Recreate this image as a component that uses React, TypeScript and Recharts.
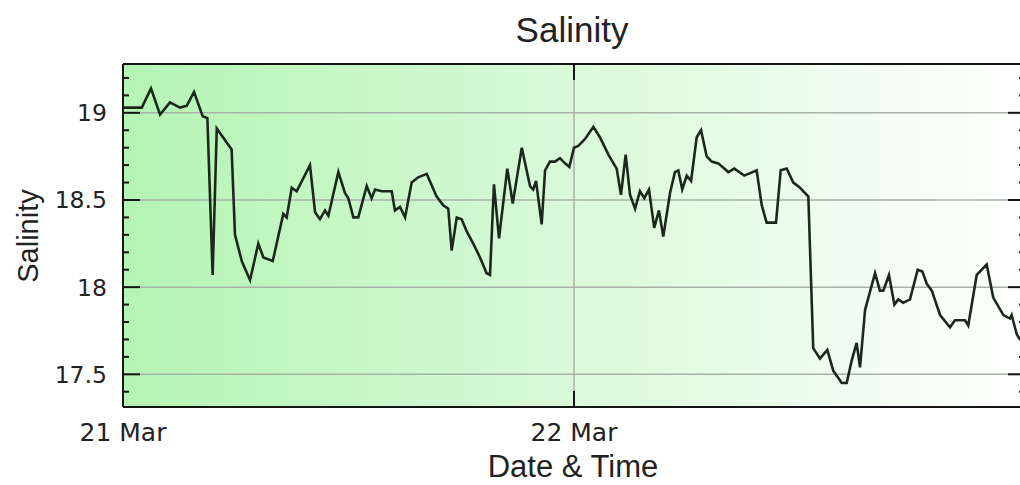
import React from 'react';
import { LineChart, Line, XAxis, YAxis, ReferenceLine, ReferenceArea } from 'recharts';

// time in hours from 21 Mar 00:00
const hours = [
  0, 0.2, 1.0, 1.49, 1.97, 2.5, 3.03, 3.39, 3.78, 4.24, 4.49, 4.77, 4.99, 5.78, 5.96, 6.32, 6.76, 7.2, 7.47, 7.97,
  8.53, 8.71, 8.98, 9.24, 9.95, 10.22, 10.48, 10.75, 10.93, 11.46, 11.81, 11.99, 12.26, 12.52, 12.97, 13.23, 13.41, 13.77, 14.3, 14.47,
  14.74, 15.01, 15.36, 15.71, 16.16, 16.69, 17.04, 17.31, 17.49, 17.76, 18.02, 18.29, 18.64, 19.0, 19.35, 19.53, 19.74, 20.01, 20.45, 20.74,
  21.22, 21.66, 21.83, 21.98, 22.28, 22.46, 22.72, 22.99, 23.25, 23.52, 23.75, 24.0, 24.23, 24.59, 25.03, 25.38, 25.83, 26.27, 26.5, 26.75,
  26.98, 27.25, 27.51, 27.74, 27.99, 28.27, 28.52, 28.75, 29.11, 29.37, 29.55, 29.76, 30.0, 30.23, 30.53, 30.76, 31.06, 31.33, 31.68, 32.21,
  32.53, 33.06, 33.72, 33.99, 34.25, 34.75, 35.0, 35.32, 35.67, 36.03, 36.47, 36.73, 37.09, 37.48, 37.8, 38.25, 38.51, 38.78, 39.04, 39.22,
  39.49, 40.02, 40.28, 40.46, 40.76, 41.05, 41.26, 41.52, 41.88, 42.29, 42.54, 42.77, 43.04, 43.48, 44.01, 44.27, 44.81, 44.98, 45.43, 45.96,
  46.31, 46.85, 47.2, 47.29, 47.56, 47.73,
];
const salinity = [
  19.03, 19.03, 19.03, 19.14, 18.99, 19.06, 19.03, 19.04, 19.12, 18.98, 18.97, 18.07, 18.91, 18.79, 18.3, 18.15, 18.04, 18.25, 18.17, 18.15,
  18.42, 18.4, 18.57, 18.55, 18.7, 18.43, 18.39, 18.44, 18.41, 18.66, 18.54, 18.51, 18.4, 18.4, 18.58, 18.51, 18.56, 18.55, 18.55, 18.44,
  18.46, 18.4, 18.6, 18.63, 18.65, 18.52, 18.47, 18.45, 18.21, 18.4, 18.39, 18.32, 18.25, 18.17, 18.08, 18.07, 18.59, 18.28, 18.68, 18.48,
  18.8, 18.58, 18.56, 18.61, 18.36, 18.67, 18.72, 18.72, 18.74, 18.71, 18.69, 18.8, 18.81, 18.85, 18.92, 18.86, 18.76, 18.68, 18.53, 18.76,
  18.53, 18.45, 18.55, 18.51, 18.56, 18.34, 18.44, 18.29, 18.54, 18.66, 18.67, 18.56, 18.64, 18.61, 18.86, 18.9, 18.75, 18.72, 18.71, 18.66,
  18.68, 18.64, 18.67, 18.47, 18.37, 18.37, 18.67, 18.68, 18.6, 18.57, 18.52, 17.65, 17.59, 17.64, 17.52, 17.45, 17.45, 17.58, 17.68, 17.54,
  17.87, 18.08, 17.98, 17.98, 18.07, 17.9, 17.93, 17.91, 17.93, 18.1, 18.09, 18.02, 17.98, 17.84, 17.77, 17.81, 17.81, 17.78, 18.07, 18.13,
  17.94, 17.84, 17.82, 17.84, 17.73, 17.7,
];

const xTicks = [0, 24];
const xTickLabels = ['21 Mar', '22 Mar'];
const yTicks = [17.4, 17.5, 17.6, 17.7, 17.8, 17.9, 18, 18.1, 18.2, 18.3, 18.4, 18.5, 18.6, 18.7, 18.8, 18.9, 19, 19.1, 19.2];
const yMajor = [17.5, 18, 18.5, 19];

const data = hours.map((h, i) => ({ h, s: salinity[i] }));

const X_DOMAIN = [0, 48];
const Y_DOMAIN = [17.3125, 19.28];
const AXIS = '#151515';
const GRID = '#a9b2a9';

const isMajor = (v: number) => yMajor.some((m) => Math.abs(m - v) < 1e-6);

function LeftTick({ x, y, payload }: any) {
  const major = isMajor(payload.value);
  return (
    <g>
      <line x1={x} x2={x + (major ? 17 : 6)} y1={y} y2={y} stroke={AXIS} strokeWidth={2} />
      {major && (
        <text x={x - 16} y={y + 8.5} textAnchor="end" fontSize={23.5} fontFamily="DejaVu Sans" fill="#222">
          {payload.value}
        </text>
      )}
    </g>
  );
}

function RightTick({ x, y, payload }: any) {
  const major = isMajor(payload.value);
  return <line x1={x} x2={x - (major ? 17 : 6)} y1={y} y2={y} stroke={AXIS} strokeWidth={2} />;
}

function BottomTick({ x, y, payload, index }: any) {
  return (
    <g>
      <line x1={x} x2={x} y1={y} y2={y - 16} stroke={AXIS} strokeWidth={2} />
      <text x={x} y={y + 34} textAnchor="middle" fontSize={25} fontFamily="DejaVu Sans" fill="#222">
        {xTickLabels[xTicks.indexOf(payload.value)] ?? xTickLabels[index]}
      </text>
    </g>
  );
}

function TopTick({ x, y }: any) {
  return <line x1={x} x2={x} y1={y} y2={y + 16} stroke={AXIS} strokeWidth={2} />;
}

export default function App() {
  return (
    <div style={{ position: 'fixed', left: 0, top: 0, width: 1020, height: 485, overflow: 'hidden', background: '#fff' }}>
      <svg width={0} height={0} style={{ position: 'absolute' }}>
        <defs>
          <linearGradient id="plotBg" x1="0" y1="0" x2="1" y2="0">
            <stop offset="0%" stopColor="#b4f4b4" />
            <stop offset="100%" stopColor="#ffffff" />
          </linearGradient>
        </defs>
      </svg>
      <div style={{ position: 'absolute', left: 0, top: 0 }}>
        <LineChart width={1040} height={485} data={data} margin={{ top: 63, right: 0, bottom: 0, left: 0 }}>
          <XAxis
            dataKey="h"
            type="number"
            domain={X_DOMAIN}
            ticks={xTicks}
            interval={0}
            height={78}
            tickSize={0}
            tickMargin={0}
            tickLine={false}
            axisLine={{ stroke: AXIS, strokeWidth: 2 }}
            tick={<BottomTick />}
          />
          <XAxis
            xAxisId="top"
            orientation="top"
            dataKey="h"
            type="number"
            domain={X_DOMAIN}
            ticks={xTicks}
            interval={0}
            height={1}
            tickSize={0}
            tickMargin={0}
            tickLine={false}
            axisLine={{ stroke: AXIS, strokeWidth: 2 }}
            tick={<TopTick />}
          />
          <YAxis
            type="number"
            domain={Y_DOMAIN}
            ticks={yTicks}
            interval={0}
            width={123}
            tickSize={0}
            tickMargin={0}
            tickLine={false}
            axisLine={{ stroke: AXIS, strokeWidth: 2 }}
            tick={<LeftTick />}
            allowDataOverflow
          />
          <YAxis
            yAxisId="right"
            orientation="right"
            type="number"
            domain={Y_DOMAIN}
            ticks={yTicks}
            interval={0}
            width={15}
            tickSize={0}
            tickMargin={0}
            tickLine={false}
            axisLine={{ stroke: AXIS, strokeWidth: 2 }}
            tick={<RightTick />}
            allowDataOverflow
          />
          <ReferenceArea
            x1={X_DOMAIN[0]}
            x2={X_DOMAIN[1]}
            y1={Y_DOMAIN[0]}
            y2={Y_DOMAIN[1]}
            fill="url(#plotBg)"
            fillOpacity={1}
            stroke="none"
          />
          {yMajor.map((v) => (
            <ReferenceLine key={v} y={v} stroke={GRID} strokeWidth={1.5} />
          ))}
          <ReferenceLine x={xTicks[1]} stroke={GRID} strokeWidth={1.5} />
          <Line
            dataKey="s"
            type="linear"
            stroke="#1c281c"
            strokeWidth={2.6}
            dot={false}
            isAnimationActive={false}
          />
        </LineChart>
      </div>
      <svg width={1020} height={485} style={{ position: 'absolute', left: 0, top: 0, pointerEvents: 'none' }}>
        <text x={572} y={42} textAnchor="middle" fontSize={35} fontFamily="Liberation Sans, Arial" fill="#222">
          Salinity
        </text>
        <text
          x={28}
          y={236}
          textAnchor="middle"
          dominantBaseline="central"
          fontSize={29}
          fontFamily="Liberation Sans, Arial"
          fill="#222"
          transform="rotate(-90 28 236)"
        >
          Salinity
        </text>
        <text x={573} y={477} textAnchor="middle" fontSize={31} fontFamily="Liberation Sans, Arial" fill="#222">
          Date &amp; Time
        </text>
      </svg>
    </div>
  );
}
